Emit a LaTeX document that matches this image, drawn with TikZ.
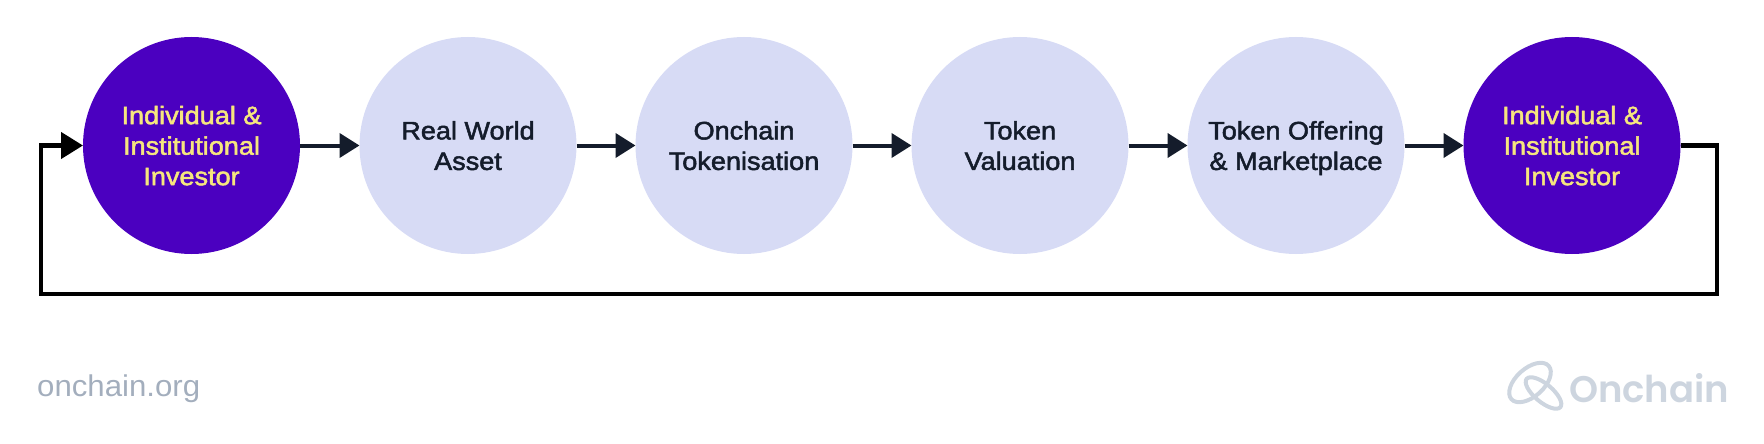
\documentclass[tikz,border=0pt]{standalone}
\usepackage{fontspec}
\setmainfont{Liberation Sans}[FakeStretch=1.04]
\newfontfamily\labelfont{Liberation Sans}[FakeBold=2,FakeStretch=1.07]
\newfontfamily\logofont{Poppins SemiBold}
\definecolor{investorfill}{HTML}{4B00C0}
\definecolor{investortext}{HTML}{F6E67E}
\definecolor{stepfill}{HTML}{D7DBF5}
\definecolor{steptext}{HTML}{141C2B}
\definecolor{footgrey}{HTML}{A3AEBD}
\definecolor{logogrey}{HTML}{CDD5DF}
\usetikzlibrary{arrows.meta}
\tikzset{
  stage/.style={circle,minimum size=217pt,inner sep=0pt,outer sep=0pt},
  stagetext/.style={inner sep=0pt,yshift=-5pt,align=center,
    font=\labelfont\fontsize{25.3}{30.5}\selectfont,
    execute at end node=\rule[-10pt]{0pt}{0pt}},
  investor/.style={stage,fill=investorfill,label={[stagetext,text=investortext]center:{#1}}},
  stepnode/.style={stage,fill=stepfill,label={[stagetext,text=steptext]center:{#1}}},
  link/.style={draw=steptext,line width=4pt,-{Triangle[length=20pt,width=24pt]}},
  loopback/.style={draw=black,line width=4.4pt,-{Triangle[length=22pt,width=26pt]}}
}
\begin{document}
\begin{tikzpicture}[x=1pt,y=-1pt]
\useasboundingbox (0,0) rectangle (1764,444);
\node[investor={Individual \&\\Institutional\\Investor}] at (191.5,145.5) (inv1) {};
\node[stepnode={Real World\\Asset}] at (468,145.5) (asset) {};
\node[stepnode={Onchain\\Tokenisation}] at (744,145.5) (tokenise) {};
\node[stepnode={Token\\Valuation}] at (1020,145.5) (value) {};
\node[stepnode={Token Offering\\\& Marketplace}] at (1296,145.5) (offer) {};
\node[investor={Individual \&\\Institutional\\Investor}] at (1572,145.5) (inv2) {};
\draw[link] (inv1) -- (asset);
\draw[link] (asset) -- (tokenise);
\draw[link] (tokenise) -- (value);
\draw[link] (value) -- (offer);
\draw[link] (offer) -- (inv2);
\coordinate (loopr) at (1717,294);
\coordinate (loopl) at (41,294);
\draw[loopback] (inv2.east) -| (loopr) -- (loopl) |- (inv1.west);
% footer
\node[anchor=west,inner sep=0pt,text=footgrey,font=\fontsize{30}{36}\selectfont] at (37,389) (site) {onchain.org};
\draw[draw=logogrey,line width=4pt,rotate around={42:(1530,382.5)}] (1530,382.5) ellipse (25 and 14);
\draw[draw=logogrey,line width=4pt,rotate around={-40:(1543.5,393)}] (1543.5,393) ellipse (22 and 9);
\node[anchor=west,inner sep=0pt,text=logogrey,font=\logofont\fontsize{37}{40}\selectfont] at (1569,388) (logo) {Onchain};
\end{tikzpicture}
\end{document}
